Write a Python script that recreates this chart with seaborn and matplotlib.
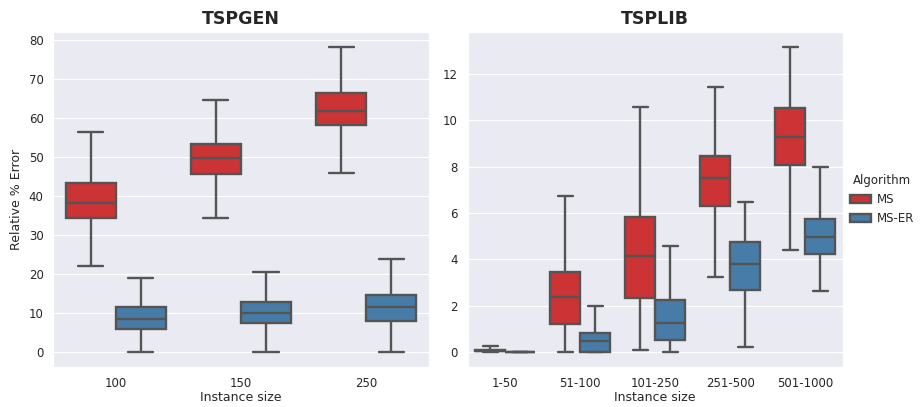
# Relative % error of MS vs MS-ER on TSPGEN and TSPLIB instances
import pandas as pd
import numpy as np
import matplotlib
matplotlib.use("Agg")
import matplotlib.pyplot as plt
import seaborn as sns

# =========================
# Data (five-number summaries: min, q1, median, q3, max)
# =========================
algorithms = ["MS", "MS-ER"]

gen_sizes = ["100", "150", "250"]
gen_ms = [
    [22.0, 34.3, 38.2, 43.2, 56.3],
    [34.3, 45.6, 49.7, 53.4, 64.6],
    [45.9, 58.1, 61.9, 66.4, 78.1],
]
gen_mser = [
    [0.0, 5.9, 8.4, 11.4, 19.0],
    [0.0, 7.4, 10.1, 12.8, 20.4],
    [0.0, 8.0, 11.5, 14.6, 23.7],
]

lib_sizes = ["1-50", "51-100", "101-250", "251-500", "501-1000"]
lib_ms = [
    [0.0, 0.02, 0.05, 0.10, 0.25],
    [0.0, 1.20, 2.39, 3.44, 6.72],
    [0.06, 2.31, 4.12, 5.81, 10.58],
    [3.24, 6.32, 7.52, 8.45, 11.43],
    [4.38, 8.05, 9.29, 10.53, 13.15],
]
lib_mser = [
    [0.0, 0.0, 0.0, 0.0, 0.0],
    [0.0, 0.0, 0.46, 0.80, 1.99],
    [0.0, 0.50, 1.25, 2.25, 4.57],
    [0.21, 2.69, 3.78, 4.74, 6.46],
    [2.63, 4.21, 4.97, 5.76, 8.00],
]


def to_long(sizes, ms, mser):
    rows = []
    for size, a, b in zip(sizes, ms, mser):
        for v in a:
            rows.append({"Instance size": size, "Algorithm": "MS", "Relative % Error": v})
        for v in b:
            rows.append({"Instance size": size, "Algorithm": "MS-ER", "Relative % Error": v})
    return pd.DataFrame(rows)


df_gen = to_long(gen_sizes, gen_ms, gen_mser)
df_lib = to_long(lib_sizes, lib_ms, lib_mser)

# =========================
# Plot
# =========================
sns.set_style("darkgrid")
plt.rcParams.update({
    "xtick.labelsize": 8.5,
    "ytick.labelsize": 8.5,
    "axes.labelsize": 9,
    "legend.fontsize": 8.5,
    "legend.title_fontsize": 8.5,
})
palette = sns.color_palette("Set1", 2)

fig, (ax1, ax2) = plt.subplots(1, 2, figsize=(9.21, 4.07), dpi=100)
fig.subplots_adjust(left=0.058, right=0.915, top=0.921, bottom=0.098, wspace=0.104)

box_kw = dict(whis=(0, 100), linewidth=1.7, linecolor="0.33")

sns.boxplot(data=df_gen, x="Instance size", y="Relative % Error", hue="Algorithm",
            hue_order=algorithms, order=gen_sizes, palette=palette,
            ax=ax1, legend=False, **box_kw)
ax1.set_title("TSPGEN", fontsize=12.5, fontweight="bold")
ax1.set_yticks(range(0, 81, 10))
ax1.xaxis.labelpad = 1

sns.boxplot(data=df_lib, x="Instance size", y="Relative % Error", hue="Algorithm",
            hue_order=algorithms, order=lib_sizes, palette=palette,
            ax=ax2, **box_kw)
ax2.set_title("TSPLIB", fontsize=12.5, fontweight="bold")
ax2.set_ylabel("")
ax2.set_yticks(range(0, 13, 2))
ax2.xaxis.labelpad = 1

sns.move_legend(ax2, "center left", bbox_to_anchor=(1.0, 0.5),
                frameon=False, title="Algorithm", handlelength=1.8,
                handletextpad=0.5, borderaxespad=0.2)

plt.savefig("out.png", dpi=100)
